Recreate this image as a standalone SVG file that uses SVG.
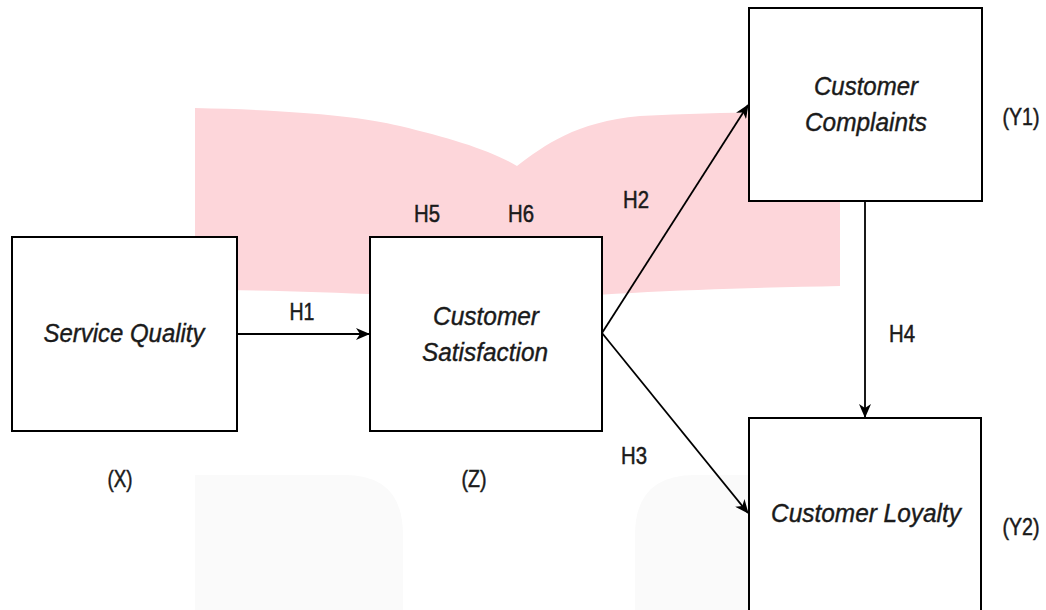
<svg xmlns="http://www.w3.org/2000/svg" width="1046" height="610" viewBox="0 0 1046 610">
<style>
.box{fill:#fff;stroke:#000;stroke-width:2}
.nt{font-family:"Liberation Sans",Arial,sans-serif;font-style:italic;font-size:25px;fill:#1a1a1a;stroke:#1a1a1a;stroke-width:0.4;text-anchor:middle}
.lb{font-family:"Liberation Sans",Arial,sans-serif;font-size:24px;fill:#1a1a1a;stroke:#1a1a1a;stroke-width:0.5;text-anchor:middle}
.edge{stroke:#000;stroke-width:1.8;fill:none;marker-end:url(#ah)}
</style>
<defs>
<marker id="ah" viewBox="0 0 14 12" refX="13" refY="6" markerWidth="14" markerHeight="12" markerUnits="userSpaceOnUse" orient="auto">
<path d="M0,0 L14,6 L0,12 L4,6 Z" fill="#000"/>
</marker>
</defs>
<rect width="1046" height="610" fill="#fff"/>
<g id="background">
<path d="M195,108 C290,110 360,116 400,126 C450,138 490,150 517,166 C545,145 575,122 640,116 C720,112 790,112 840,112 L840,286 C740,288 600,292 517,302 C420,296 300,290 195,290 Z" fill="#fdd6da"/>
<path d="M195,475 L345,475 Q403,475 403,535 L403,610 L195,610 Z" fill="#fafafa"/>
<path d="M695,475 L770,475 L770,610 L635,610 L635,535 Q635,475 695,475 Z" fill="#fafafa"/>
</g>
<g id="connectors">
<line class="edge" x1="237" y1="334" x2="369" y2="334"/>
<line class="edge" x1="602" y1="333" x2="748" y2="105"/>
<line class="edge" x1="602" y1="333" x2="748" y2="513"/>
<line class="edge" x1="865" y1="201" x2="865" y2="417"/>
</g>
<g id="service-quality">
<rect class="box" x="12" y="237" width="225" height="194"/>
<text class="nt" x="124" y="342" textLength="161" lengthAdjust="spacingAndGlyphs">Service Quality</text>
</g>
<g id="customer-satisfaction">
<rect class="box" x="370" y="237" width="232" height="194"/>
<text class="nt" x="486" y="325" textLength="106" lengthAdjust="spacingAndGlyphs">Customer</text>
<text class="nt" x="485" y="361" textLength="126" lengthAdjust="spacingAndGlyphs">Satisfaction</text>
</g>
<g id="customer-complaints">
<rect class="box" x="749" y="8" width="233" height="193"/>
<text class="nt" x="866" y="95" textLength="104" lengthAdjust="spacingAndGlyphs">Customer</text>
<text class="nt" x="866" y="131" textLength="122" lengthAdjust="spacingAndGlyphs">Complaints</text>
</g>
<g id="customer-loyalty">
<rect class="box" x="749" y="418" width="232" height="196"/>
<text class="nt" x="866" y="522" textLength="190" lengthAdjust="spacingAndGlyphs">Customer Loyalty</text>
</g>
<g id="labels">
<text class="lb" x="302" y="320" textLength="25" lengthAdjust="spacingAndGlyphs">H1</text>
<text class="lb" x="427" y="222" textLength="26" lengthAdjust="spacingAndGlyphs">H5</text>
<text class="lb" x="521" y="222" textLength="26" lengthAdjust="spacingAndGlyphs">H6</text>
<text class="lb" x="636" y="208" textLength="26" lengthAdjust="spacingAndGlyphs">H2</text>
<text class="lb" x="634" y="464" textLength="26" lengthAdjust="spacingAndGlyphs">H3</text>
<text class="lb" x="902" y="342" textLength="26" lengthAdjust="spacingAndGlyphs">H4</text>
<text class="lb" x="120" y="487" textLength="25" lengthAdjust="spacingAndGlyphs">(X)</text>
<text class="lb" x="474" y="487" textLength="25" lengthAdjust="spacingAndGlyphs">(Z)</text>
<text class="lb" x="1021" y="125" textLength="37" lengthAdjust="spacingAndGlyphs">(Y1)</text>
<text class="lb" x="1021" y="535" textLength="37" lengthAdjust="spacingAndGlyphs">(Y2)</text>
</g>
</svg>
